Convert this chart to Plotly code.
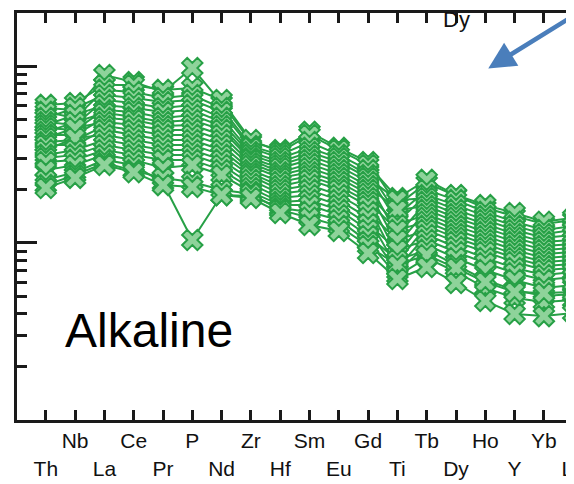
import plotly.graph_objects as go

elements = ["Th", "Nb", "La", "Ce", "Pr", "P", "Nd", "Zr", "Hf", "Sm",
            "Eu", "Gd", "Ti", "Tb", "Dy", "Ho", "Y", "Yb", "Lu"]

# normalized concentrations, one list per sample
s01 = [58.3, 56.8, 89.7, 81.8, 71.9, 98.3, 62.2, 37.4, 33.7, 42.7, 34.6, 28.8, 16.4, 21.9, 18.5, 15.8, 14.2, 12.8, 13.5]
s02 = [60.7, 62.2, 78.8, 78.8, 73.8, 75.7, 64.7, 38.4, 32.8, 41.0, 33.7, 27.7, 18.0, 22.8, 18.7, 16.4, 14.8, 13.2, 13.9]
s03 = [55.4, 51.2, 73.8, 71.9, 66.4, 69.1, 58.3, 35.5, 31.6, 37.4, 31.6, 25.9, 14.4, 20.0, 17.5, 15.0, 13.2, 11.85, 12.5]
s04 = [51.2, 58.3, 69.1, 66.4, 63.0, 64.7, 55.4, 34.6, 30.3, 34.6, 30.3, 24.3, 13.2, 18.7, 16.4, 14.2, 12.5, 11.25, 11.85]
s05 = [48.5, 46.7, 64.7, 62.2, 58.3, 60.7, 51.2, 32.8, 28.8, 32.8, 28.8, 23.4, 17.5, 18.0, 15.4, 13.5, 11.85, 10.7, 11.1]
s06 = [46.7, 53.2, 60.7, 58.3, 55.4, 56.8, 48.5, 31.6, 27.7, 31.2, 27.3, 22.2, 11.1, 17.1, 14.6, 12.8, 11.25, 10.15, 10.4]
s07 = [44.9, 43.8, 56.8, 55.4, 51.2, 53.2, 46.1, 30.3, 26.6, 29.6, 25.9, 21.0, 15.4, 16.2, 13.9, 12.2, 10.7, 9.61, 9.87]
s08 = [42.7, 48.5, 54.7, 51.8, 48.5, 49.8, 43.8, 29.6, 25.2, 28.1, 24.6, 20.0, 9.74, 15.4, 13.2, 11.55, 10.15, 9.13, 9.37]
s09 = [41.0, 41.0, 51.2, 49.8, 46.1, 46.7, 41.0, 28.4, 24.3, 26.6, 23.4, 19.0, 12.65, 14.6, 12.5, 10.95, 9.61, 8.66, 8.89]
s10 = [39.4, 44.9, 48.5, 46.7, 43.8, 43.8, 38.4, 27.3, 23.4, 25.2, 22.2, 18.0, 8.55, 13.9, 11.85, 10.4, 9.13, 8.22, 8.44]
s11 = [37.4, 38.4, 46.1, 43.8, 41.0, 41.0, 36.0, 25.9, 22.2, 24.0, 21.0, 17.1, 11.85, 13.2, 11.25, 9.87, 8.66, 7.80, 8.01]
s12 = [36.0, 36.0, 43.8, 41.0, 38.4, 38.4, 33.7, 24.9, 21.0, 22.8, 20.0, 16.2, 7.80, 12.5, 10.7, 9.37, 8.22, 7.40, 7.60]
s13 = [33.7, 39.4, 41.0, 38.4, 36.0, 36.0, 31.6, 24.0, 20.0, 21.3, 18.7, 15.0, 10.4, 11.85, 10.15, 8.89, 7.80, 7.03, 7.21]
s14 = [31.6, 33.7, 38.4, 36.0, 33.7, 33.7, 29.6, 22.8, 19.0, 20.0, 17.5, 13.9, 7.21, 11.1, 9.49, 8.22, 7.21, 6.58, 6.85]
s15 = [30.3, 31.6, 36.0, 33.7, 31.6, 31.6, 27.7, 21.6, 18.0, 18.7, 16.4, 12.8, 9.13, 10.4, 8.89, 7.70, 6.76, 6.17, 6.41]
s16 = [28.8, 29.6, 33.7, 31.6, 29.6, 29.6, 25.9, 20.5, 17.1, 17.5, 15.4, 11.85, 6.85, 9.74, 8.22, 7.03, 6.17, 5.56, 5.78]
s17 = [25.9, 27.7, 31.6, 29.6, 26.6, 27.7, 24.3, 19.5, 16.4, 16.4, 14.4, 10.95, 8.01, 9.13, 7.50, 6.17, 5.41, 5.00, 5.13]
s18 = [22.8, 25.2, 29.6, 27.7, 21.9, 10.4, 18.7, 18.5, 15.8, 15.0, 13.5, 10.15, 6.50, 8.22, 6.85, 5.56, 4.88, 4.63, 4.75]
s19 = [21.3, 24.3, 28.4, 25.9, 23.4, 22.2, 20.0, 19.0, 15.4, 13.9, 12.5, 9.61, 7.50, 8.55, 7.21, 6.01, 5.27, 5.20, 5.27]
s20 = [20.5, 23.4, 27.7, 25.2, 21.3, 20.8, 18.7, 18.0, 14.8, 12.65, 11.7, 8.78, 6.25, 7.31, 5.93, 4.69, 3.96, 3.85, 4.01]

samples = [s01, s02, s03, s04, s05, s06, s07, s08, s09, s10,
           s11, s12, s13, s14, s15, s16, s17, s18, s19, s20]

upper_row = {"Nb", "Ce", "P", "Zr", "Sm", "Gd", "Tb", "Ho", "Yb"}
tick_text = [e if e in upper_row else "<br>" + e for e in elements]
x_idx = list(range(len(elements)))

LINE_GREEN = "#27a046"
FILL_GREEN = "#8ed39a"
AXIS = "#1a1a1a"
FONT = "Liberation Sans, Arial, sans-serif"

fig = go.Figure()
for s in samples:
    fig.add_trace(go.Scatter(
        x=x_idx, y=s, mode="lines+markers",
        line=dict(color=LINE_GREEN, width=2),
        marker=dict(symbol="x", size=18, color=FILL_GREEN,
                    line=dict(color=LINE_GREEN, width=2)),
        showlegend=False, hoverinfo="skip", cliponaxis=True,
    ))

minor_vals = [2, 3, 4, 5, 6, 7, 8, 9, 20, 30, 40, 50, 60, 70, 80, 90, 200]

# the page body adds an 8 px offset, so the figure is 8 px smaller on each side
fig.update_layout(
    width=566, height=476,
    margin=dict(l=9, r=0, t=5, b=64, pad=0, autoexpand=False),
    paper_bgcolor="white", plot_bgcolor="white",
    font=dict(family=FONT, color="#111111"),
    xaxis=dict(
        range=[-0.983, 18.027], tickmode="array", tickvals=x_idx, ticktext=tick_text,
        tickangle=0, automargin=False, ticklabeloverflow="allow",
        ticks="inside", ticklen=10, tickwidth=2.5, tickcolor=AXIS,
        showline=True, linewidth=3, linecolor=AXIS, mirror="ticks",
        showgrid=False, zeroline=False,
        tickfont=dict(size=21, family=FONT, color="#111111"),
    ),
    yaxis=dict(
        type="log", range=[-0.004, 2.3045], automargin=False,
        tickmode="array", tickvals=[1, 10, 100],
        ticks="inside", ticklen=20, tickwidth=2.5, tickcolor=AXIS,
        showticklabels=False, showline=True, linewidth=3, linecolor=AXIS,
        showgrid=False, zeroline=False,
        minor=dict(tickmode="array", tickvals=minor_vals, ticks="inside",
                   ticklen=10, tickwidth=2.5, tickcolor=AXIS, showgrid=False),
    ),
    annotations=[
        dict(text="Alkaline", xref="paper", yref="paper", x=0.083, y=0.221,
             xanchor="left", yanchor="middle", showarrow=False,
             font=dict(size=48, family=FONT, color="black")),
        dict(text="Dy", xref="x", yref="y", x=14, y=2.265,
             xanchor="center", yanchor="middle", showarrow=False,
             font=dict(size=22, family=FONT, color="#111111")),
        dict(text="", xref="x", yref="y", x=15.1, y=1.99,
             ax=95, ay=-53, showarrow=True, arrowhead=2, arrowsize=1.2,
             arrowwidth=4.5, arrowcolor="#4a7ebb"),
    ],
)

fig.write_html("out.html")
